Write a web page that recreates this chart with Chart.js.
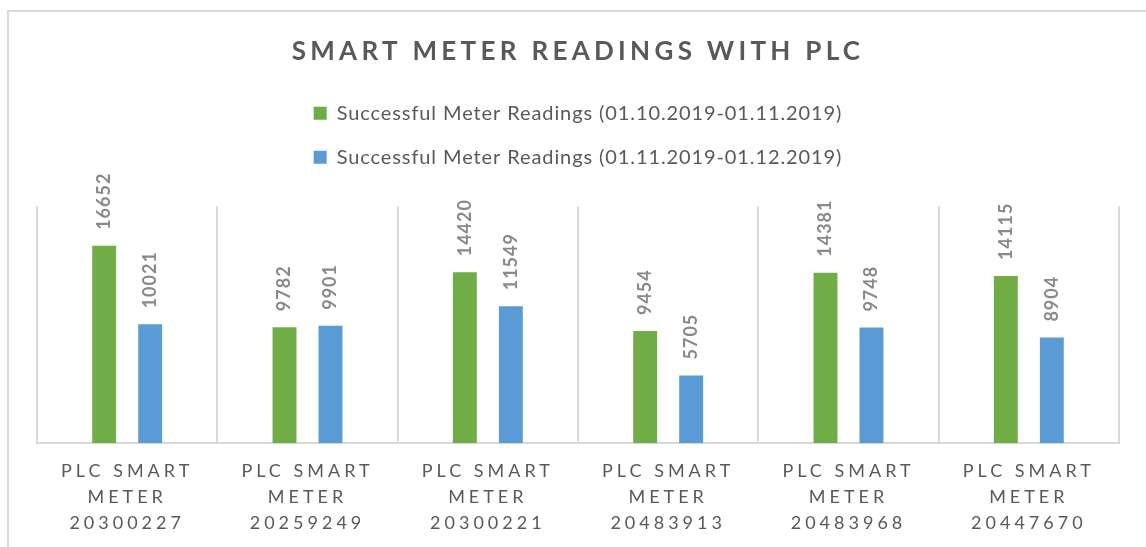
<!DOCTYPE html>
<html>
<head>
<meta charset="utf-8">
<script src="https://cdn.jsdelivr.net/npm/chart.js@4.4.0/dist/chart.umd.min.js"></script>
<style>
  html, body { margin: 0; padding: 0; background: #fff; overflow: hidden; }
  #frame { position: absolute; left: 7px; top: 10px; width: 1300px; height: 700px;
           border-left: 2px solid #dadada; border-top: 2px solid #dadada; }
  #chart { position: absolute; left: 0; top: 0; }
</style>
</head>
<body>
<div id="frame"></div>
<canvas id="chart" width="1146" height="547"></canvas>
<script>
const meterLabels = [
  ['PLC SMART', 'METER', '20300227'],
  ['PLC SMART', 'METER', '20259249'],
  ['PLC SMART', 'METER', '20300221'],
  ['PLC SMART', 'METER', '20483913'],
  ['PLC SMART', 'METER', '20483968'],
  ['PLC SMART', 'METER', '20447670']
];
const seriesNames = [
  'Successful Meter Readings (01.10.2019-01.11.2019)',
  'Successful Meter Readings (01.11.2019-01.12.2019)'
];
const readingsOct = [16652, 9782, 14420, 9454, 14381, 14115];
const readingsNov = [10021, 9901, 11549, 5705, 9748, 8904];

// chart.js has no letter spacing option, so wrap some of its draw calls
function withSpacing(ctx, obj, name, spacing) {
  if (!obj || obj['_spaced_' + name]) return;
  const orig = obj[name];
  obj[name] = function (...args) {
    ctx.save();
    ctx.letterSpacing = spacing;
    const res = orig.apply(this, args);
    ctx.restore();
    return res;
  };
  obj['_spaced_' + name] = true;
}

const spacedText = {
  id: 'spacedText',
  beforeLayout(chart) {
    const ctx = chart.ctx;
    const legend = chart.legend;
    if (legend && !legend._spaced__fitRows) {
      // one legend item per row, like the original
      const fitRows = legend._fitRows;
      legend._fitRows = function (...args) {
        const mw = this.maxWidth;
        this.maxWidth = 600;
        ctx.save();
        ctx.letterSpacing = '0.9px';
        const h = fitRows.apply(this, args);
        ctx.restore();
        this.maxWidth = mw;
        return h;
      };
      legend._spaced__fitRows = true;
    }
    withSpacing(ctx, legend, 'draw', '0.9px');
  },
  beforeDraw(chart) {
    withSpacing(chart.ctx, chart.titleBlock, 'draw', '4.3px');
    withSpacing(chart.ctx, chart.scales.x, 'drawLabels', '4px');
  }
};

// vertical value labels above each bar
const barLabels = {
  id: 'barLabels',
  afterDatasetsDraw(chart) {
    const ctx = chart.ctx;
    ctx.save();
    ctx.font = 'bold 18px Lato';
    ctx.letterSpacing = '1px';
    ctx.fillStyle = '#898989';
    ctx.textAlign = 'left';
    ctx.textBaseline = 'middle';
    chart.data.datasets.forEach((ds, i) => {
      chart.getDatasetMeta(i).data.forEach((bar, j) => {
        ctx.save();
        ctx.translate(bar.x, bar.y - 16);
        ctx.rotate(-Math.PI / 2);
        ctx.fillText(String(ds.data[j]), 0, 0);
        ctx.restore();
      });
    });
    ctx.restore();
  }
};

new Chart(document.getElementById('chart'), {
  type: 'bar',
  data: {
    labels: meterLabels,
    datasets: [
      { label: seriesNames[0], data: readingsOct, backgroundColor: '#70ad47' },
      { label: seriesNames[1], data: readingsNov, backgroundColor: '#5b9bd5' }
    ]
  },
  options: {
    responsive: false,
    animation: false,
    layout: { padding: { left: 37, right: 27, top: 0, bottom: 11 } },
    datasets: { bar: { barPercentage: 0.52, categoryPercentage: 0.51 } },
    plugins: {
      title: {
        display: true,
        text: 'SMART METER READINGS WITH PLC',
        color: '#595959',
        font: { family: 'Lato', size: 26, weight: 'bold', lineHeight: 1.2 },
        padding: { top: 36, bottom: 12 }
      },
      legend: {
        position: 'top',
        labels: {
          boxWidth: 13,
          boxHeight: 13,
          padding: 24,
          color: '#595959',
          font: { family: 'Lato', size: 20 }
        }
      },
      // empty spacer between legend and plot
      subtitle: { display: true, text: '', weight: 500, padding: 0, font: { size: 29, lineHeight: 1 } },
      tooltip: { enabled: false }
    },
    scales: {
      x: {
        grid: { color: '#d9d9d9', lineWidth: 2, tickLength: 15, tickColor: 'transparent', offset: true },
        border: { color: '#d9d9d9', width: 2 },
        ticks: {
          padding: 0,
          color: '#595959',
          maxRotation: 0,
          autoSkip: false,
          font: { family: 'Lato', size: 18, lineHeight: 26 / 18 }
        }
      },
      y: { display: false, min: 0, max: 20000 }
    }
  },
  plugins: [spacedText, barLabels]
});
</script>
</body>
</html>
